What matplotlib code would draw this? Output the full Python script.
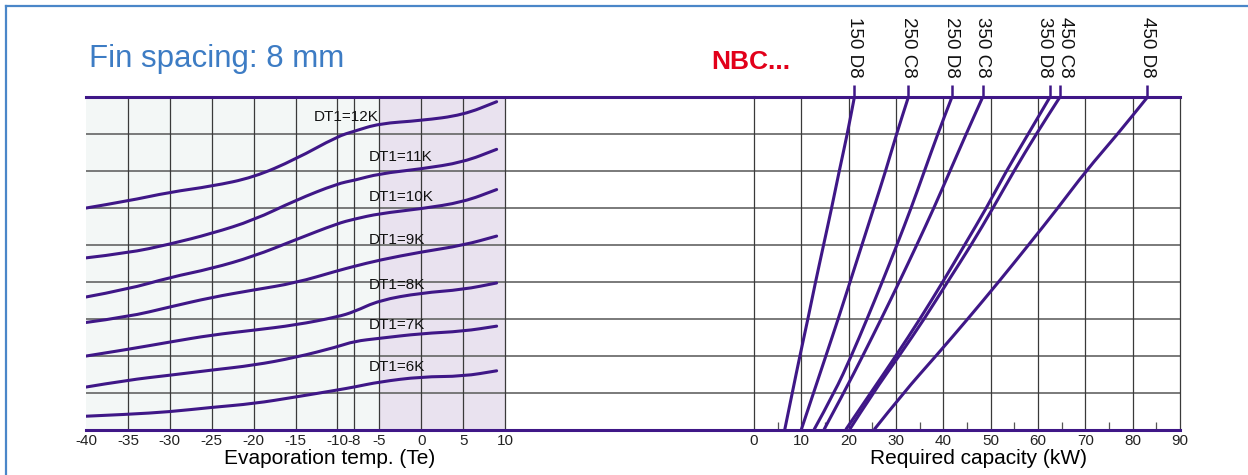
import numpy as np
import matplotlib.pyplot as plt
import matplotlib.transforms as mtransforms
from matplotlib.lines import Line2D
from matplotlib.path import Path
from matplotlib.patches import PathPatch

plt.rcParams['font.family'] = ['Liberation Sans', 'DejaVu Sans']
plt.rcParams['axes.unicode_minus'] = False  # 마이너스는 하이픈으로

# 왼쪽: 증발 온도별 곡선 (DT1)
te = [-40, -35, -30, -25, -20, -15, -10, -8, -5, 0, 5, 9]
dt_names = ['DT1=12K', 'DT1=11K', 'DT1=10K', 'DT1=9K', 'DT1=8K', 'DT1=7K', 'DT1=6K']
dt12 = [6.00, 6.19, 6.43, 6.59, 6.83, 7.32, 7.94, 8.08, 8.29, 8.37, 8.52, 8.88]
dt11 = [4.65, 4.78, 5.02, 5.31, 5.67, 6.21, 6.66, 6.75, 6.93, 7.06, 7.24, 7.59]
dt10 = [3.59, 3.80, 4.12, 4.36, 4.69, 5.14, 5.58, 5.70, 5.85, 5.98, 6.16, 6.50]
dt9 = [2.90, 3.05, 3.32, 3.58, 3.78, 3.97, 4.30, 4.42, 4.59, 4.81, 4.99, 5.24]
dt8 = [1.99, 2.17, 2.37, 2.56, 2.69, 2.83, 3.05, 3.19, 3.50, 3.70, 3.79, 3.97]
dt7 = [1.15, 1.34, 1.47, 1.61, 1.74, 1.95, 2.24, 2.39, 2.47, 2.60, 2.66, 2.80]
dt6 = [0.36, 0.41, 0.48, 0.60, 0.70, 0.88, 1.07, 1.15, 1.29, 1.43, 1.44, 1.59]
left_xticks = [-40, -35, -30, -25, -20, -15, -10, -8, -5, 0, 5, 10]

# 오른쪽: 모델별 필요 용량 (kW)
levels = [0, 1, 2, 3, 4, 5, 6, 7, 8, 9]
models = ['150 D8', '250 C8', '250 D8', '350 C8', '350 D8', '450 C8', '450 D8']
m150d8 = [6.5, 8.1, 9.7, 11.4, 13.0, 14.7, 16.4, 18.0, 19.7, 21.2]
m250c8 = [10.0, 12.6, 15.2, 17.8, 20.3, 22.8, 25.3, 27.8, 30.1, 32.6]
m250d8 = [12.7, 17.0, 20.6, 23.9, 27.1, 30.2, 33.2, 36.0, 38.8, 41.8]
m350c8 = [14.8, 19.0, 23.0, 26.9, 30.7, 34.4, 38.0, 41.4, 44.8, 48.3]
m350d8 = [19.4, 24.7, 30.0, 35.1, 39.9, 44.5, 49.1, 53.3, 57.9, 62.5]
m450c8 = [20.2, 25.2, 30.7, 36.0, 40.9, 45.9, 50.5, 54.9, 59.6, 64.6]
m450d8 = [25.4, 31.6, 38.5, 45.2, 51.7, 58.0, 64.2, 70.1, 76.8, 83.1]
right_xticks = [0, 10, 20, 30, 40, 50, 60, 70, 80, 90]

purple = '#3f1787'
W, H = 1248, 475


def smooth_line(ax, xs, ys, **kw):
    # 읽은 점들을 베지어 제어점으로 써서 부드럽게 그림
    pts = list(zip(xs, ys))
    verts = [pts[0]]
    codes = [Path.MOVETO]
    for i in range(1, len(pts) - 1):
        mx = (pts[i][0] + pts[i + 1][0]) / 2
        my = (pts[i][1] + pts[i + 1][1]) / 2
        verts += [pts[i], (mx, my)]
        codes += [Path.CURVE3, Path.CURVE3]
    verts.append(pts[-1])
    codes.append(Path.LINETO)
    ax.add_patch(PathPatch(Path(verts, codes), fill=False, **kw))


fig = plt.figure(figsize=(12.48, 4.75), dpi=100)
y0 = 1 - 429.5 / H
hh = (429.5 - 97.3) / H
ax1 = fig.add_axes([86 / W, y0, (754 - 86) / W, hh])
ax2 = fig.add_axes([754 / W, y0, (1180 - 754) / W, hh])
ax2.patch.set_alpha(0)

ax1.set_xlim(-40, -40 + (754 - 86) / 8.38)
ax1.set_ylim(0, 9)
ax2.set_xlim(0, 90)
ax2.set_ylim(0, 9)

# 배경 음영
ax1.axvspan(-40, -5, color='#f3f7f6', lw=0, zorder=0)
ax1.axvspan(-5, 10, color='#e9e2ef', lw=0, zorder=0)

# 격자
for ax in (ax1, ax2):
    for s in ax.spines.values():
        s.set_visible(False)
    for yy in levels[1:-1]:
        ax.axhline(yy, color='#6f6f6f', lw=1.3, zorder=1)
    ax.set_yticks([])
for xx in left_xticks[1:]:
    ax1.axvline(xx, color='#3a3a3a', lw=0.9, zorder=1)
for xx in right_xticks:
    ax2.axvline(xx, color='#3a3a3a', lw=0.9, zorder=1, clip_on=False)

ax1.set_xticks(left_xticks)
ax1.tick_params(axis='x', length=0, pad=3, labelsize=11, labelcolor='#222222')
ax2.set_xticks(right_xticks)
ax2.set_xticks(np.arange(5, 90, 10), minor=True)
ax2.tick_params(axis='x', which='major', length=0, pad=3, labelsize=11, labelcolor='#222222')
ax2.tick_params(axis='x', which='minor', direction='in', length=6, width=0.9, color='#555555')

# 위/아래 보라색 선
for ax in (ax1, ax2):
    ax.axhline(9, color=purple, lw=2.2, zorder=4, clip_on=False)
    ax.axhline(0, color=purple, lw=2.2, zorder=4, clip_on=False)

# 왼쪽 곡선
dts = [dt12, dt11, dt10, dt9, dt8, dt7, dt6]
for d in dts:
    smooth_line(ax1, te, d, edgecolor=purple, lw=2.2, capstyle='round', joinstyle='round', zorder=3)

label_pos = [(-12.8, 8.47), (-6.2, 7.37), (-6.2, 6.30), (-6.2, 5.13),
             (-6.2, 3.91), (-6.2, 2.83), (-6.2, 1.70)]
for name, (lx, ly) in zip(dt_names, label_pos):
    ax1.text(lx, ly, name, fontsize=11, va='center', ha='left', color='#111111', zorder=5)

# 오른쪽 선
mlines = [m150d8, m250c8, m250d8, m350c8, m350d8, m450c8, m450d8]
for m in mlines:
    smooth_line(ax2, m, levels, edgecolor=purple, lw=2.2, joinstyle='round', zorder=3)

tops = [m[-1] for m in mlines]
ax2.vlines(tops, 9, 9.32, color=purple, lw=1.8, clip_on=False, zorder=4)

# 가까운 라벨은 조금 벌려준다
lab_x = list(tops)
for i in range(len(lab_x) - 1):
    if lab_x[i + 1] - lab_x[i] < 4:
        mid = (lab_x[i] + lab_x[i + 1]) / 2
        lab_x[i], lab_x[i + 1] = mid - 2.2, mid + 2.2

trans = mtransforms.blended_transform_factory(ax2.transData, fig.transFigure)
for name, lx in zip(models, lab_x):
    ax2.text(lx, 1 - 17 / H, name, rotation=-90, ha='center', va='top',
             fontsize=13.5, color='#111111', transform=trans)

# 제목, 축 이름
fig.text(89 / W, 1 - 66.5 / H, 'Fin spacing: 8 mm', fontsize=22.5, color='#3d7cc4', va='baseline')
fig.text(711.5 / W, 1 - 69.3 / H, 'NBC...', fontsize=19, color='#e2001a',
         fontweight='bold', va='baseline')
fig.text(330 / W, 1 - 458 / H, 'Evaporation temp. (Te)', fontsize=15, ha='center', va='center')
fig.text(979 / W, 1 - 458 / H, 'Required capacity (kW)', fontsize=15, ha='center', va='center')

# 파란 테두리
fig.add_artist(Line2D([6 / W, 6 / W], [0, 1 - 6 / H], color='#4a86c8', lw=1.6))
fig.add_artist(Line2D([6 / W, 1], [1 - 6 / H, 1 - 6 / H], color='#4a86c8', lw=1.6))

fig.savefig('out.png', dpi=100)
